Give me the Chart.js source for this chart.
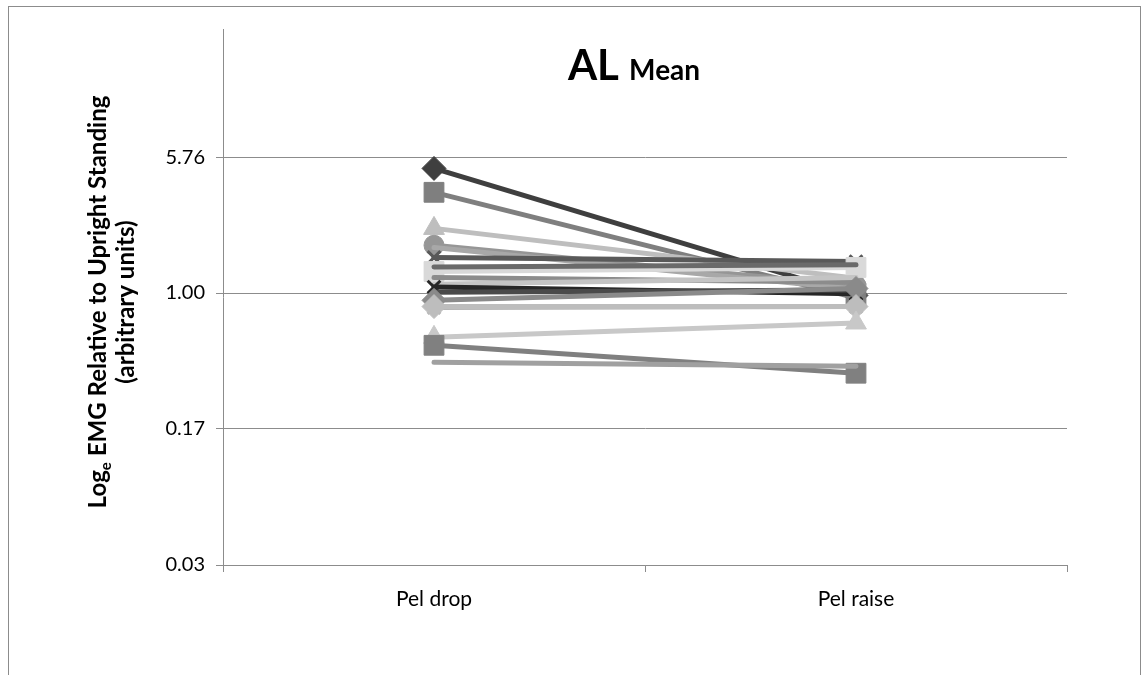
<!DOCTYPE html>
<html><head><meta charset="utf-8">
<script src="https://cdn.jsdelivr.net/npm/chart.js@4"></script>
<style>
html,body{margin:0;padding:0;background:#fff;overflow:hidden}
#wrap{position:relative;width:1141px;height:675px}
#frame{position:absolute;left:8px;top:6px;width:1133px;height:720px;border:1px solid #8c8c8c;box-sizing:border-box}
canvas{position:absolute;left:0;top:0}
</style></head><body>
<div id="wrap"><div id="frame"></div><canvas id="c" width="1141" height="675"></canvas></div>
<script>
const categories = ['Pel drop', 'Pel raise'];
const seriesNames = ['S1','S2','S3','S4','S5','S6','S7','S8','S9','S10','S11','S12','S13','S14','S15','S16','S17','S18'];
const dropValues  = [4.98, 3.66, 2.30, 1.85, 1.80, 1.58, 1.32, 1.40, 1.22, 1.12, 1.08, 1.01, 0.91, 0.83, 0.84, 0.565, 0.51, 0.41];
const raiseValues = [0.97, 0.94, 1.21, 1.10, 1.05, 1.50, 1.39, 1.44, 1.15, 1.22, 0.99, 1.04, 1.06, 0.84, 0.84, 0.68, 0.356, 0.39];
const seriesColors = ['#3f3f3f','#7f7f7f','#bebebe','#969696','#a8a8a8','#595959','#d9d9d9','#6a6a6a','#8c8c8c','#c4c4c4','#262626','#4a4a4a','#8a8a8a','#b4b4b4','#bdbdbd','#c8c8c8','#808080','#a0a0a0'];
const seriesMarkers = ['rectRot','rect','triangle','circle',false,'crossRot','rect',false,false,false,'crossRot',false,'rectRot','crossRot','rectRot','triangle','rect',false];
const yTickValues = [0.0301, 0.1736, 1, 5.76];
const yTickLabels = ['0.03', '0.17', '1.00', '5.76'];
const yMin = 0.0301, yMax = 30;

const markerRadius = {rectRot: 12, rect: 14, triangle: 12, circle: 10, crossRot: 9};

const datasets = seriesNames.map((n, i) => {
  const m = seriesMarkers[i];
  return {
    label: n,
    data: [dropValues[i], raiseValues[i]],
    order: seriesNames.length - i,
    borderColor: seriesColors[i],
    backgroundColor: seriesColors[i],
    borderWidth: 5,
    borderCapStyle: 'round',
    pointStyle: m || 'circle',
    pointRadius: m ? markerRadius[m] : 0,
    pointBorderWidth: m === 'crossRot' ? 3 : 1,
    pointBorderColor: seriesColors[i],
    pointBackgroundColor: seriesColors[i],
    tension: 0
  };
});

function fitFont(ctx, text, target, base) {
  ctx.font = 'bold ' + base + 'px Lato';
  const w = ctx.measureText(text).width;
  return base * target / w;
}

const textPlugin = {
  id: 'texts',
  afterDraw(chart) {
    const ctx = chart.ctx;
    ctx.save();
    ctx.fillStyle = '#000';
    ctx.textBaseline = 'alphabetic';
    // title
    const f1 = 'bold 42px Lato', f2 = 'bold 28px Lato';
    ctx.font = f1; const w1 = ctx.measureText('AL ').width;
    ctx.font = f2; const w2 = ctx.measureText('Mean').width;
    let x = 634 - (w1 + w2) / 2;
    ctx.font = f1; ctx.textAlign = 'left'; ctx.fillText('AL ', x, 80);
    ctx.font = f2; ctx.fillText('Mean', x + w1, 80);
    // y axis title line 1
    const partA = 'Log', partB = 'e', partC = ' EMG Relative to Upright Standing';
    const size1 = fitFont(ctx, partA + partC, 405, 24);
    const fm = 'bold ' + size1 + 'px Lato', fs = 'bold ' + (size1 * 0.62) + 'px Lato';
    ctx.save();
    ctx.translate(106, 302);
    ctx.rotate(-Math.PI / 2);
    ctx.font = fm; const a = ctx.measureText(partA).width, c = ctx.measureText(partC).width;
    ctx.font = fs; const b = ctx.measureText(partB).width;
    let sx = -(a + b + c) / 2;
    ctx.font = fm; ctx.fillText(partA, sx, 0);
    ctx.font = fs; ctx.fillText(partB, sx + a, 5);
    ctx.font = fm; ctx.fillText(partC, sx + a + b, 0);
    ctx.restore();
    // line 2
    const line2 = '(arbitrary units)';
    ctx.save();
    ctx.translate(134, 302);
    ctx.rotate(-Math.PI / 2);
    ctx.font = fm; ctx.textAlign = 'center';
    ctx.fillText(line2, 0, 0);
    ctx.restore();
    ctx.restore();
  }
};

new Chart(document.getElementById('c'), {
  type: 'line',
  data: { labels: categories, datasets },
  options: {
    responsive: false,
    animation: false,
    devicePixelRatio: 1,
    layout: { padding: { left: 0, top: 29, right: 74, bottom: 0 } },
    plugins: { legend: { display: false }, tooltip: { enabled: false }, title: { display: false } },
    scales: {
      x: {
        type: 'category',
        offset: true,
        grid: { offset: true, drawOnChartArea: false, color: '#8c8c8c', tickLength: 7, lineWidth: 1 },
        border: { color: '#8c8c8c', width: 1 },
        ticks: { color: '#000', font: { family: 'Lato', size: 21 }, padding: 15, maxRotation: 0 },
        afterFit(s) { s.height = 110; }
      },
      y: {
        type: 'logarithmic',
        min: yMin, max: yMax,
        bounds: 'data',
        afterBuildTicks(s) { s.ticks = yTickValues.map(v => ({ value: v })); },
        grid: { color: '#8c8c8c', tickLength: 7, lineWidth: 1 },
        border: { color: '#8c8c8c', width: 1 },
        ticks: { color: '#000', font: { family: 'Lato', size: 20 }, padding: 11,
                 callback: (v, i) => yTickLabels[i] },
        afterFit(s) { s.width = 223; }
      }
    }
  },
  plugins: [textPlugin]
});
</script>
</body></html>
